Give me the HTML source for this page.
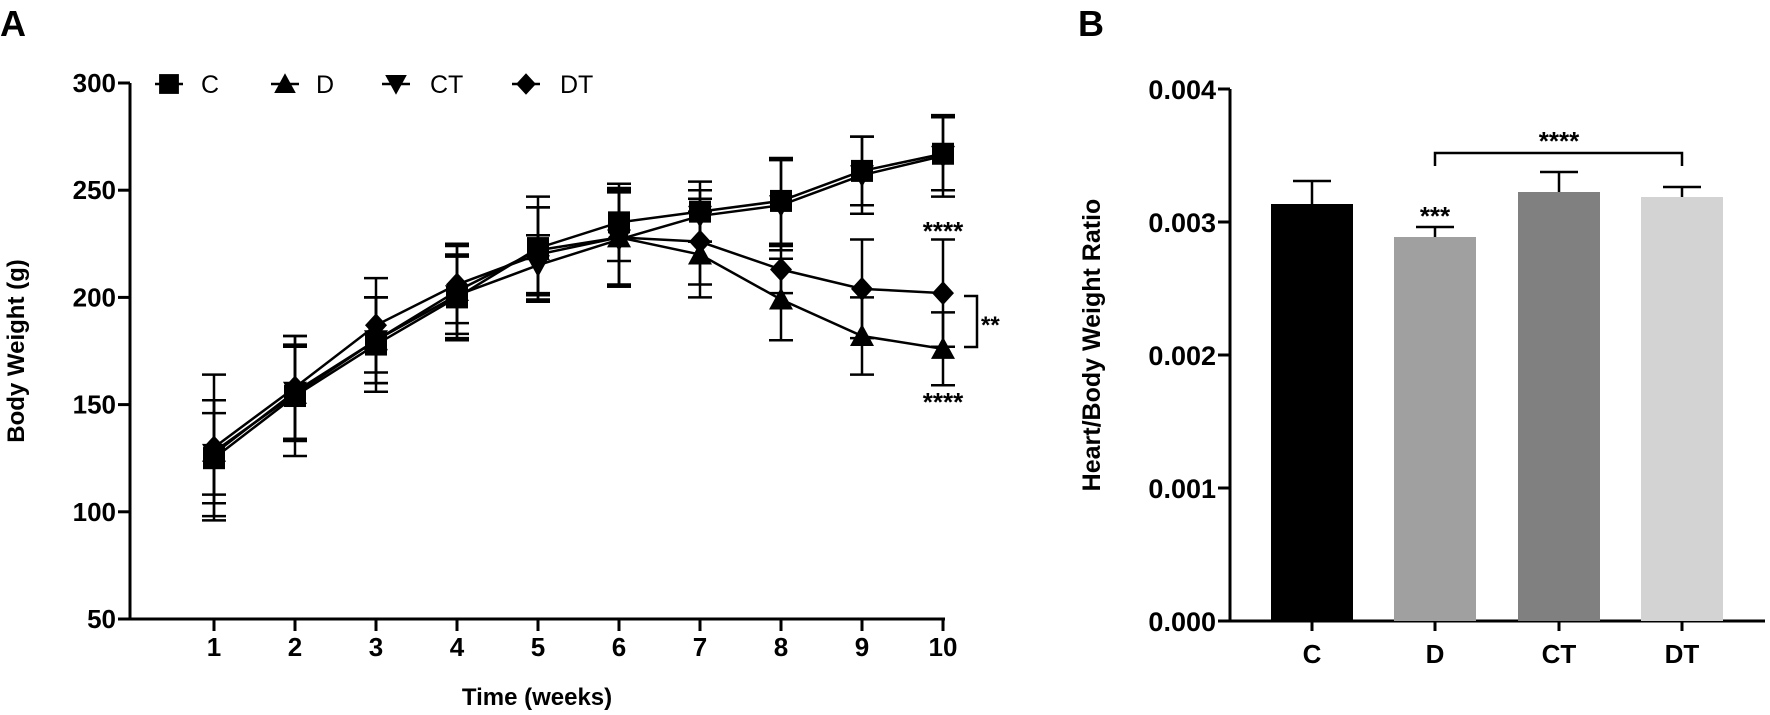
<!DOCTYPE html>
<html><head><meta charset="utf-8"><style>
html,body{margin:0;padding:0;background:#fff;}
svg{display:block;font-family:"Liberation Sans",Arial,sans-serif;}
</style></head><body>
<svg id="s" width="1770" height="715" viewBox="0 0 1770 715" xmlns="http://www.w3.org/2000/svg">
<rect width="1770" height="715" fill="#fff"/>
<text x="0" y="36" font-size="36" font-weight="bold">A</text>
<text x="1078" y="36" font-size="36" font-weight="bold">B</text>
<g id="A"></g>
<g stroke="#000" stroke-width="3" fill="none">
<path d="M1230 89 V621 H1765"/>
<path d="M1218 89 H1230 M1218 222 H1230 M1218 355 H1230 M1218 488 H1230 M1218 621 H1230"/>
<path d="M1312 621 V631 M1435 621 V631 M1559 621 V631 M1682 621 V631"/>
</g>
<g font-size="27" font-weight="bold" text-anchor="end">
<text x="1216" y="99">0.004</text>
<text x="1216" y="232">0.003</text>
<text x="1216" y="365">0.002</text>
<text x="1216" y="498">0.001</text>
<text x="1216" y="631">0.000</text>
</g>
<text transform="translate(1100,345) rotate(-90)" font-size="25" font-weight="bold" text-anchor="middle">Heart/Body Weight Ratio</text>
<g font-size="26" font-weight="bold" text-anchor="middle">
<text x="1312" y="663">C</text><text x="1435" y="663">D</text><text x="1559" y="663">CT</text><text x="1682" y="663">DT</text>
</g>
<rect x="1271" y="204" width="82" height="417" fill="#000"/>
<rect x="1394" y="237" width="82" height="384" fill="#a0a0a0"/>
<rect x="1518" y="192" width="82" height="429" fill="#808080"/>
<rect x="1641" y="197" width="82" height="424" fill="#d3d3d3"/>
<g stroke="#000" stroke-width="2.5" fill="none">
<path d="M1312 204 V181 M1293 181 H1331"/>
<path d="M1435 237 V227 M1416 227 H1454"/>
<path d="M1559 192 V172 M1540 172 H1578"/>
<path d="M1682 197 V187 M1663 187 H1701"/>
<path d="M1435 166 V153 H1682 V166"/>
</g>
<text x="1559" y="150" font-size="26" font-weight="bold" text-anchor="middle">****</text>
<text x="1435" y="225" font-size="26" font-weight="bold" text-anchor="middle">***</text>
</svg>
<script>
var g=document.getElementById('A'),h='';
function Y(v){return 619-(v-50)*2.144;}
function X(w){return 214+81*(w-1);}
h+='<path d="M130 83 V619 H945" stroke="#000" stroke-width="3" fill="none"/>';
[300,250,200,150,100,50].forEach(function(v){var y=Y(v);h+='<path d="M118 '+y+' H130" stroke="#000" stroke-width="3"/><text x="116" y="'+(y+9)+'" font-size="26" font-weight="bold" text-anchor="end">'+v+'</text>';});
for(var w=1;w<=10;w++){h+='<path d="M'+X(w)+' 619 V631" stroke="#000" stroke-width="3"/><text x="'+X(w)+'" y="656" font-size="26" font-weight="bold" text-anchor="middle">'+w+'</text>';}
h+='<text x="537" y="705" font-size="24" font-weight="bold" text-anchor="middle">Time (weeks)</text>';
h+='<text transform="translate(24,351) rotate(-90)" font-size="24" font-weight="bold" text-anchor="middle">Body Weight (g)</text>';
var S={
C:{m:[125,154,178,200,223,235,240,245,259,267],e:[27,28,22,20,24,18,14,20,16,17]},
CT:{m:[127,156,180,201,215,227,238,243,257,266],e:[19,22,20,18,14,22,12,21,18,19]},
D:{m:[128,155,180,203,222,228,220,199,182,176],e:[24,22,20,22,20,22,20,19,18,17]},
DT:{m:[130,158,187,206,220,228,226,213,204,202],e:[34,24,22,18,22,23,20,11,23,25]}};
function mk(t,x,y,s){s=s||1;
 if(t=='C')return '<rect x="'+(x-11*s)+'" y="'+(y-11*s)+'" width="'+22*s+'" height="'+22*s+'" fill="#000"/>';
 if(t=='D')return '<polygon points="'+x+','+(y-12*s)+' '+(x+12*s)+','+(y+10*s)+' '+(x-12*s)+','+(y+10*s)+'" fill="#000"/>';
 if(t=='CT')return '<polygon points="'+x+','+(y+12*s)+' '+(x+12*s)+','+(y-10*s)+' '+(x-12*s)+','+(y-10*s)+'" fill="#000"/>';
 return '<polygon points="'+x+','+(y-12*s)+' '+(x+11*s)+','+y+' '+x+','+(y+12*s)+' '+(x-11*s)+','+y+'" fill="#000"/>';}
['C','CT','D','DT'].forEach(function(k){var d=S[k],p='';
 for(var i=0;i<10;i++){var x=X(i+1),y=Y(d.m[i]),a=Y(d.m[i]+d.e[i]),b=Y(d.m[i]-d.e[i]);
  p+=(i?'L':'M')+x+' '+y;
  h+='<path d="M'+x+' '+a+' V'+b+' M'+(x-12)+' '+a+' H'+(x+12)+' M'+(x-12)+' '+b+' H'+(x+12)+'" stroke="#000" stroke-width="2.5" fill="none"/>';}
 h+='<path d="'+p+'" stroke="#000" stroke-width="2.5" fill="none"/>';});
['C','CT','D','DT'].forEach(function(k){var d=S[k];for(var i=0;i<10;i++)h+=mk(k,X(i+1),Y(d.m[i]));});
var L=[['C',169,201],['D',285,316],['CT',396,430],['DT',526,560]];
L.forEach(function(l){h+='<path d="M'+(l[1]-14)+' 84 H'+(l[1]+14)+'" stroke="#000" stroke-width="2.5"/>'+mk(l[0],l[1],84,0.9)+'<text x="'+l[2]+'" y="93" font-size="25">'+l[0]+'</text>';});
h+='<text x="943" y="240" font-size="26" font-weight="bold" text-anchor="middle">****</text>';
h+='<text x="943" y="411" font-size="26" font-weight="bold" text-anchor="middle">****</text>';
h+='<path d="M964 296 H977 V347 H964" stroke="#000" stroke-width="2.5" fill="none"/>';
h+='<text x="981" y="333" font-size="24" font-weight="bold">**</text>';
g.innerHTML=h;
</script>
</body></html>
